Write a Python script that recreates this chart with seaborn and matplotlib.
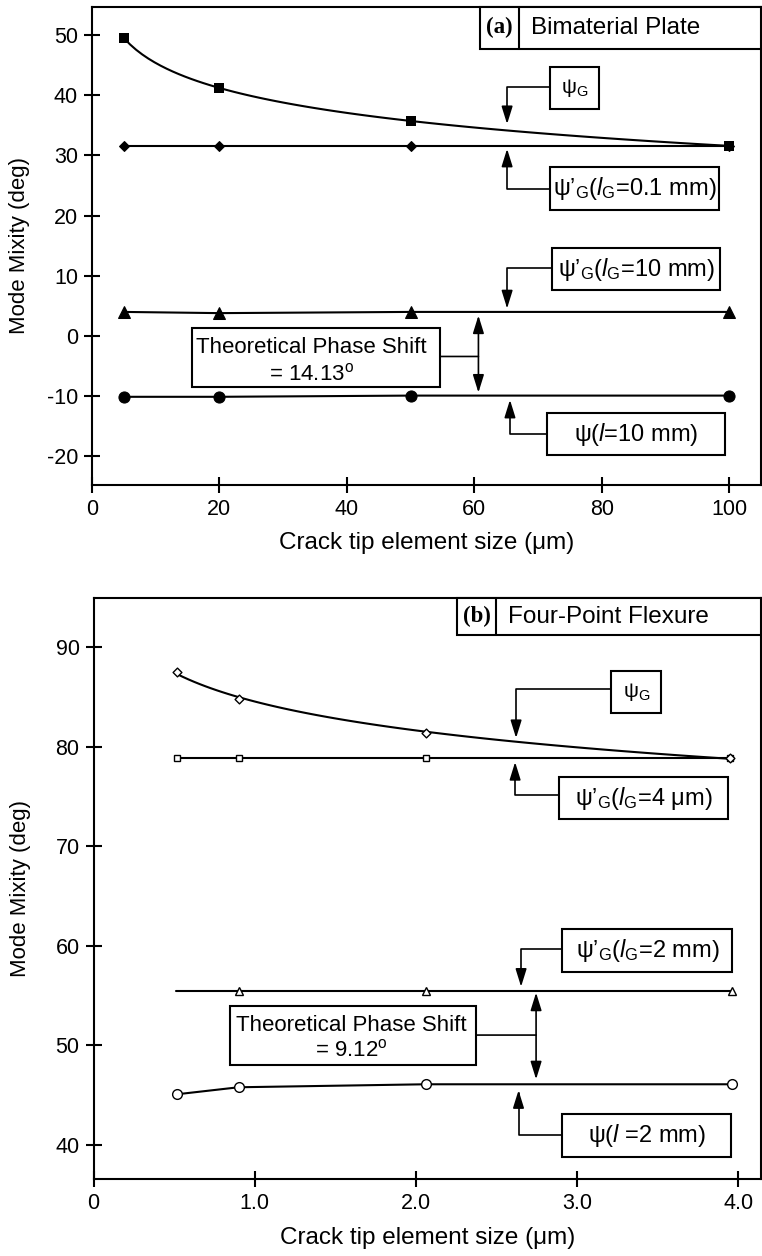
import matplotlib
matplotlib.use("Agg")
import matplotlib.pyplot as plt
from matplotlib.patches import Rectangle
import seaborn as sns

# ---------------- data: panel (a) Bimaterial Plate ----------------
a_size = [5, 20, 50, 100]
a_psiG = [49.5, 41.2, 35.7, 31.6]
a_psiGp_01mm = [31.5, 31.5, 31.5, 31.5]
a_psiGp_10mm = [4.0, 3.8, 4.0, 4.0]
a_psi_10mm = [-10.1, -10.1, -9.9, -9.9]
a_xticks = [0, 20, 40, 60, 80, 100]
a_yticks = [-20, -10, 0, 10, 20, 30, 40, 50]

# ---------------- data: panel (b) Four-Point Flexure ----------------
b_size = [0.52, 0.90, 2.06, 3.95]
b_psiG = [87.46, 84.75, 81.4, 78.9]
b_psiGp_4um = [78.9, 78.9, 78.9, 78.9]
b_size_tri = [0.51, 0.90, 2.06, 3.96]
b_psiGp_2mm = [55.5, 55.5, 55.5, 55.5]
b_size_circ = [0.52, 0.90, 2.06, 3.96]
b_psi_2mm = [45.1, 45.8, 46.1, 46.1]
b_xticks = [0, 1, 2, 3, 4]
b_xticklabels = ["0", "1.0", "2.0", "3.0", "4.0"]
b_yticks = [40, 50, 60, 70, 80, 90]

sns.set_theme(style="ticks")
plt.rcParams.update({
    "font.family": ["Liberation Sans", "DejaVu Sans"],
    "mathtext.fontset": "custom",
    "mathtext.rm": "Liberation Sans",
    "mathtext.it": "Liberation Sans:italic",
    "mathtext.bf": "Liberation Sans:bold",
    "axes.unicode_minus": False,
    "axes.linewidth": 1.5,
    "axes.edgecolor": "black",
    "axes.labelcolor": "black",
    "text.color": "black",
    "xtick.color": "black",
    "ytick.color": "black",
    "xtick.direction": "inout",
    "ytick.direction": "inout",
    "xtick.major.size": 12,
    "ytick.major.size": 12,
    "xtick.major.width": 1.5,
    "ytick.major.width": 1.5,
    "xtick.major.pad": 4,
    "ytick.major.pad": 4,
    "xtick.labelsize": 15.5,
    "ytick.labelsize": 15.5,
})

FS = 17          # annotation labels
FS_PHASE = 16    # phase-shift boxes
FS_TITLE = 17.5  # panel titles
XLAB = 17.5
YLAB = 16

fig = plt.figure(figsize=(7.62, 12.56), dpi=100)
axA = fig.add_axes([92 / 762, 1 - 485 / 1256, 669 / 762, 478 / 1256])
axB = fig.add_axes([93.5 / 762, 1 - 1179 / 1256, 667.5 / 762, 581 / 1256])

ARROW = "-|>,head_length=0.9,head_width=0.28"
DARROW = "<|-|>,head_length=0.9,head_width=0.28"


def box(ax, x0, x1, y0, y1, lw=1.5):
    ax.add_patch(Rectangle((x0, y0), x1 - x0, y1 - y0, facecolor="white",
                           edgecolor="black", lw=lw, zorder=5, clip_on=False))


def label_box(ax, x0, x1, y0, y1, text, fs=FS):
    box(ax, x0, x1, y0, y1)
    ax.text((x0 + x1) / 2, (y0 + y1) / 2, text, ha="center", va="center",
            fontsize=fs, zorder=6)


def elbow(ax, start, tip):
    ax.annotate("", xy=tip, xytext=start, zorder=4,
                arrowprops=dict(arrowstyle=ARROW, mutation_scale=12, color="black",
                                lw=1.2, shrinkA=0, shrinkB=0,
                                connectionstyle="angle,angleA=0,angleB=90,rad=0"))


def straight(ax, p0, p1, style):
    ax.annotate("", xy=p1, xytext=p0, zorder=4,
                arrowprops=dict(arrowstyle=style, mutation_scale=12, color="black",
                                lw=1.2, shrinkA=0, shrinkB=0))


def title_box(ax, x0, xd, y0, tag, title):
    x1 = ax.get_xlim()[1]
    y1 = ax.get_ylim()[1]
    box(ax, x0, x1, y0, y1)
    ax.plot([xd, xd], [y0, y1], color="black", lw=1.5, zorder=6, clip_on=False)
    ym = (y0 + y1) / 2
    ax.text((x0 + xd) / 2, ym, tag, ha="center", va="center", fontsize=16.5,
            family=["Liberation Serif"], fontweight="bold", zorder=6)
    ax.text(xd + (xd - x0) * 0.3, ym, title, ha="left", va="center",
            fontsize=FS_TITLE, zorder=6)


# ================= panel (a) =================
ax = axA
ax.set_xlim(0, 105)
ax.set_ylim(-24.75, 54.65)
sns.regplot(x=a_size, y=a_psiG, logx=True, ci=None, scatter=False, color="black",
            line_kws=dict(lw=1.5), ax=ax)
sns.scatterplot(x=a_size, y=a_psiG, marker="s", s=55, color="black",
                edgecolor="black", linewidth=0, zorder=3, ax=ax)
sns.lineplot(x=a_size, y=a_psiGp_01mm, marker="D", markersize=5.5, color="black",
             markeredgecolor="black", lw=1.5, ax=ax)
sns.lineplot(x=a_size, y=a_psiGp_10mm, marker="^", markersize=8, color="black",
             markeredgecolor="black", lw=1.5, ax=ax)
sns.lineplot(x=a_size, y=a_psi_10mm, marker="o", markersize=8, color="black",
             markeredgecolor="black", lw=1.5, ax=ax)
ax.set_xticks(a_xticks)
ax.set_yticks(a_yticks)
ax.set_xlabel("Crack tip element size (μm)", fontsize=XLAB)
ax.set_ylabel("Mode Mixity (deg)", fontsize=YLAB)
ax.xaxis.set_label_coords(0.5, -0.098)
ax.yaxis.set_label_coords(-0.092, 0.5)

title_box(ax, 60.9, 67.0, 47.7, "(a)", "Bimaterial Plate")
label_box(ax, 71.9, 79.6, 37.7, 44.7, "ψ$_{\\rm G}$", fs=15)
elbow(ax, (71.9, 41.36), (65.15, 35.2))
label_box(ax, 71.9, 98.4, 20.9, 28.1, "ψ’$_{\\rm G}$($\\mathit{l}_{\\rm G}$=0.1 mm)")
elbow(ax, (71.9, 24.42), (65.15, 31.1))
label_box(ax, 72.2, 98.6, 7.6, 14.6, "ψ’$_{\\rm G}$($\\mathit{l}_{\\rm G}$=10 mm)")
elbow(ax, (72.2, 11.3), (65.15, 4.6))
box(ax, 15.7, 54.6, -8.47, 1.33)
ax.text(34.4, -2.87, "Theoretical Phase Shift", ha="center", va="baseline",
        fontsize=FS_PHASE, zorder=6)
ax.text(34.4, -7.31, "= 14.13$^{\\rm o}$", ha="center", va="baseline",
        fontsize=FS_PHASE, zorder=6)
straight(ax, (54.6, -3.4), (60.65, -3.4), "-")
straight(ax, (60.65, -9.4), (60.65, 3.4), DARROW)
label_box(ax, 71.4, 99.4, -19.8, -12.8, "ψ($\\mathit{l}$=10 mm)")
elbow(ax, (71.4, -16.3), (65.6, -10.6))

# ================= panel (b) =================
ax = axB
ax.set_xlim(0, 4.14)
ax.set_ylim(36.59, 94.92)
sns.regplot(x=b_size, y=b_psiG, logx=True, ci=None, scatter=False, color="black",
            line_kws=dict(lw=1.5), ax=ax)
sns.scatterplot(x=b_size, y=b_psiG, marker="D", s=20, color="white",
                edgecolor="black", linewidth=1, zorder=3, ax=ax)
sns.lineplot(x=b_size, y=b_psiGp_4um, marker="s", markersize=5, color="black",
             markerfacecolor="white", markeredgecolor="black", markeredgewidth=1,
             lw=1.5, ax=ax)
sns.lineplot(x=b_size_tri, y=b_psiGp_2mm, marker="^", markersize=6, color="black",
             markerfacecolor="white", markeredgecolor="black", markeredgewidth=1,
             markevery=[1, 2, 3], lw=1.5, ax=ax)
sns.lineplot(x=b_size_circ, y=b_psi_2mm, marker="o", markersize=7, color="black",
             markerfacecolor="white", markeredgecolor="black", markeredgewidth=1,
             lw=1.5, ax=ax)
ax.set_xticks(b_xticks)
ax.set_xticklabels(b_xticklabels)
ax.set_yticks(b_yticks)
ax.set_xlabel("Crack tip element size (μm)", fontsize=XLAB)
ax.set_ylabel("Mode Mixity (deg)", fontsize=YLAB)
ax.xaxis.set_label_coords(0.5, -0.0826)
ax.yaxis.set_label_coords(-0.093, 0.5)

title_box(ax, 2.255, 2.497, 91.2, "(b)", "Four-Point Flexure")
label_box(ax, 3.212, 3.522, 83.37, 87.62, "ψ$_{\\rm G}$", fs=15)
elbow(ax, (3.212, 85.78), (2.621, 80.86))
label_box(ax, 2.890, 3.938, 72.73, 76.95, "ψ’$_{\\rm G}$($\\mathit{l}_{\\rm G}$=4 μm)")
elbow(ax, (2.890, 75.14), (2.615, 78.45))
label_box(ax, 2.908, 3.963, 57.4, 61.69, "ψ’$_{\\rm G}$($\\mathit{l}_{\\rm G}$=2 mm)")
elbow(ax, (2.908, 59.68), (2.652, 55.9))
box(ax, 0.848, 2.373, 48.03, 53.96)
ax.text(1.598, 51.48, "Theoretical Phase Shift", ha="center", va="baseline",
        fontsize=FS_PHASE, zorder=6)
ax.text(1.598, 48.94, "= 9.12$^{\\rm o}$", ha="center", va="baseline",
        fontsize=FS_PHASE, zorder=6)
straight(ax, (2.373, 51.04), (2.745, 51.04), "-")
straight(ax, (2.745, 46.6), (2.745, 55.3), DARROW)
label_box(ax, 2.907, 3.955, 38.82, 43.11, "ψ($\\mathit{l}$ =2 mm)")
elbow(ax, (2.907, 41.0), (2.636, 45.5))

fig.savefig("out.png", dpi=100)
